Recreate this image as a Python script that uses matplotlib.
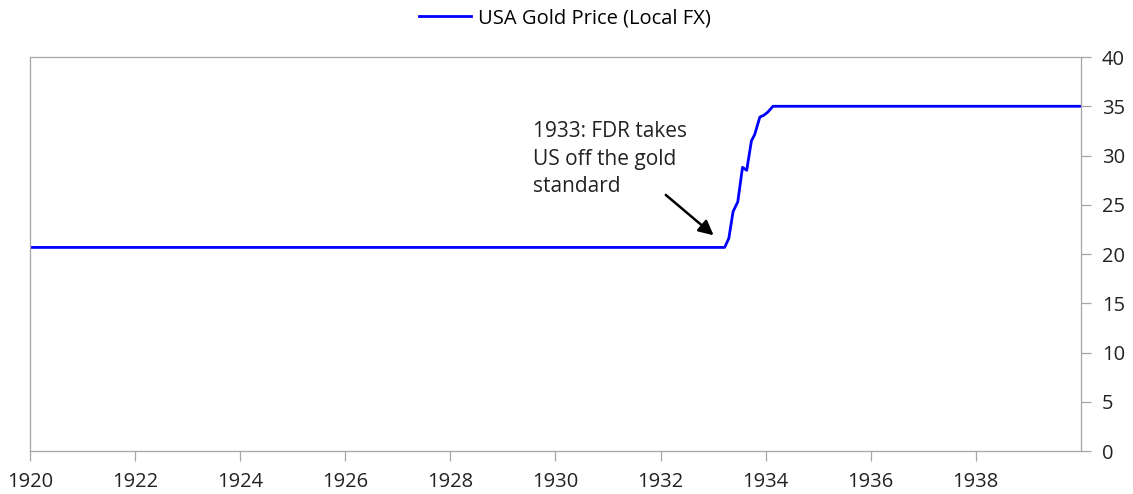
import matplotlib.pyplot as plt
import matplotlib

matplotlib.rcParams['font.family'] = ['Open Sans', 'DejaVu Sans']
matplotlib.rcParams['font.size'] = 14.5

# Gold price points (decimal year, USD/oz)
years = [1920.0, 1933.22, 1933.30, 1933.38, 1933.47, 1933.56, 1933.64,
         1933.73, 1933.79, 1933.89, 1933.97, 1934.04, 1934.14, 1940.0]
price = [20.67, 20.67, 21.6, 24.3, 25.3, 28.8, 28.5,
         31.5, 32.1, 33.9, 34.1, 34.4, 35.0, 35.0]

x_ticks = list(range(1920, 1940, 2))
y_ticks = list(range(0, 45, 5))

fig = plt.figure(figsize=(11.33, 4.94), dpi=100)
ax = fig.add_axes([0.0265, 0.087, 0.9275, 0.7976])

ax.plot(years, price, color='#0000ff', linewidth=2.0,
        label='USA Gold Price (Local FX)')

ax.set_xlim(1920, 1940)
ax.set_ylim(0, 40)
ax.set_xticks(x_ticks)
ax.set_xticklabels([str(y) for y in x_ticks])
ax.set_yticks(y_ticks)

ax.yaxis.tick_right()
for s in ax.spines.values():
    s.set_color('#a6a6a6')
    s.set_linewidth(0.9)
ax.tick_params(axis='both', colors='#a6a6a6', labelcolor='#222222',
               length=7, width=0.9, labelsize=14.5)
ax.tick_params(axis='x', pad=8)
ax.tick_params(axis='y', pad=8)

# note and arrow pointing at the start of the jump
ax.text(1929.58, 33.5, '1933: FDR takes\nUS off the gold\nstandard',
        fontsize=15, color='#222222', ha='left', va='top', linespacing=1.42)
ax.annotate('', xy=(1933.01, 21.9), xytext=(1932.10, 26.0),
            arrowprops=dict(arrowstyle='-|>', color='black', lw=1.8,
                            mutation_scale=22, shrinkA=0, shrinkB=0))

ax.legend(loc='lower center', bbox_to_anchor=(0.509, 1.052), frameon=False,
          fontsize=14.5, handlelength=2.6, handletextpad=0.35, borderaxespad=0)

fig.savefig('out.png', dpi=100)
